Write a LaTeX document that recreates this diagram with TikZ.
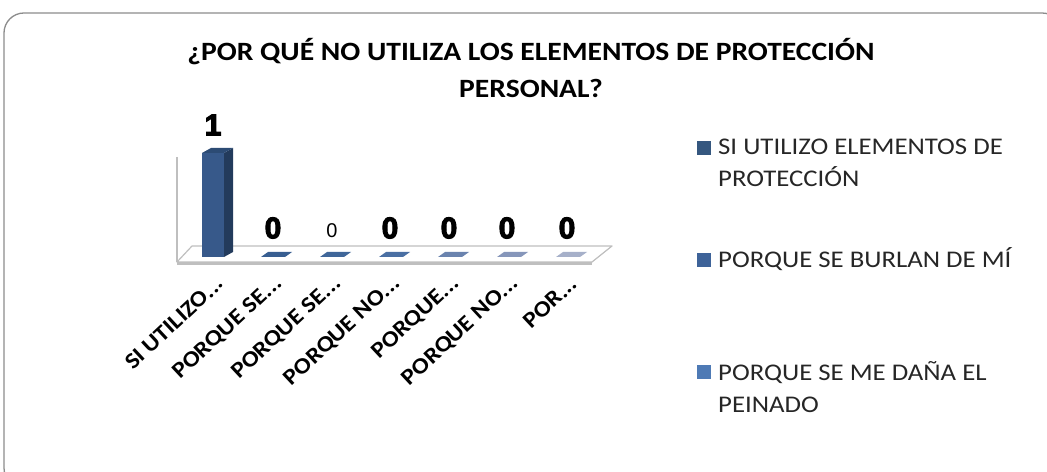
\documentclass[tikz,border=0pt]{standalone}
\usepackage{fontspec}
\setmainfont[FakeStretch=1.12]{Carlito}
\newfontfamily\heavyfont[FakeBold=3.5]{Liberation Sans Bold}
\newfontfamily\numfont{Liberation Sans}
\usetikzlibrary{calc}
\definecolor{frame}{HTML}{8C8C8C}
\definecolor{floorline}{HTML}{BFBFBF}
\definecolor{ink}{HTML}{262626}
\definecolor{barfront}{HTML}{37598A}
\definecolor{barside}{HTML}{233B5C}
\definecolor{bartop}{HTML}{2C4B74}
\definecolor{catB}{HTML}{385E91}
\definecolor{catC}{HTML}{3F6699}
\definecolor{catD}{HTML}{4A6FA3}
\definecolor{catE}{HTML}{6A83AE}
\definecolor{catF}{HTML}{8696BA}
\definecolor{catG}{HTML}{A6B0C9}
\definecolor{legA}{HTML}{35577F}
\definecolor{legB}{HTML}{3E6399}
\definecolor{legC}{HTML}{4E7AB5}
\tikzset{
  box/.style={draw=frame, line width=1.3pt, rounded corners=20bp},
  floorface/.style={draw=floorline, fill=white, line width=1.2pt, line join=round},
  wall/.style={draw=floorline, line width=1.2pt},
  title/.style={font=\bfseries\fontsize{26.5}{38}\selectfont, align=center},
  val/.style={font=\heavyfont\fontsize{30}{34}\selectfont},
  valthin/.style={font=\numfont\fontsize{20}{24}\selectfont},
  cat/.style={font=\bfseries\fontsize{22.5}{26}\selectfont, rotate=43, anchor=east, inner sep=0pt},
  key/.style={minimum size=14bp, inner sep=0pt},
  keytext/.style={font=\fontsize{24}{32}\selectfont, align=left, anchor=west, inner sep=0pt, text=ink}
}

\begin{document}
\begin{tikzpicture}[x=1bp, y=-1bp]
  \useasboundingbox (0,0) rectangle (1047,472);
  \clip (0,0) rectangle (1047,472);
  \draw[box] (4,13) rectangle (1062,488);

  \node[title] (title) at (531,68) {¿POR QUÉ NO UTILIZA LOS ELEMENTOS DE PROTECCIÓN\\PERSONAL?};

  % floor and side wall
  \draw[wall] (177,157) -- (177,262);
  \fill[floorline] (177,262) rectangle (592,265);
  \draw[floorface] (177,262) -- (592,262) -- (612,246) -- (192,246) -- cycle;

  % the one real bar
  \fill[barside] (224,153) -- (233,148) -- (233,252) -- (224,257) -- cycle;
  \fill[bartop] (202,153) -- (211,148) -- (233,148) -- (224,153) -- cycle;
  \fill[barfront] (202,153) rectangle (224,257);

  % zero bars
  \foreach \cx/\col in {272/catB, 331/catC, 390/catD, 449/catE, 508/catF, 567/catG}
    \fill[\col] (\cx-11,257) -- (\cx+13,257) -- (\cx+20,252) -- (\cx-4,252) -- cycle;

  % values
  \node[val] (val1) at (213,125) {1};
  \node[val] (val2) at (273,228) {0};
  \node[valthin] (val3) at (332,231) {0};
  \node[val] (val4) at (390,228) {0};
  \node[val] (val5) at (449,228) {0};
  \node[val] (val6) at (507,228) {0};
  \node[val] (val7) at (567,228) {0};

  % categories
  \node[cat] (cat1) at (220,280) {SI UTILIZO...};
  \node[cat] (cat2) at (279,280) {PORQUE SE...};
  \node[cat] (cat3) at (338,280) {PORQUE SE...};
  \node[cat] (cat4) at (397,280) {PORQUE NO...};
  \node[cat] (cat5) at (456,280) {PORQUE...};
  \node[cat] (cat6) at (515,280) {PORQUE NO...};
  \node[cat] (cat7) at (574,280) {POR...};

  % legend
  \node[key, fill=legA] (key1) at (704,148) {};
  \node[key, fill=legB] (key2) at (704,260) {};
  \node[key, fill=legC] (key3) at (704,372) {};
  \node[keytext] (lab1) at (718,163) {SI UTILIZO ELEMENTOS DE\\PROTECCIÓN};
  \node[keytext] (lab2) at (718,259) {PORQUE SE BURLAN DE MÍ};
  \node[keytext] (lab3) at (718,387) {PORQUE SE ME DAÑA EL\\PEINADO};
\end{tikzpicture}
\end{document}
